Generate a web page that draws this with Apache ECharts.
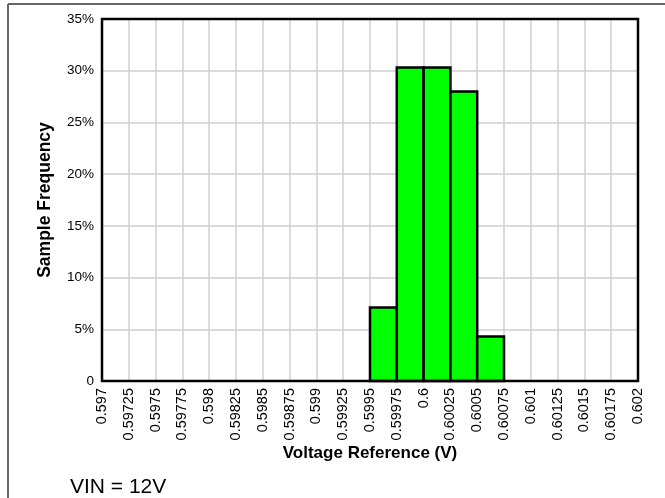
<!DOCTYPE html>
<html>
<head>
<meta charset="utf-8">
<script src="https://cdn.jsdelivr.net/npm/echarts@6/dist/echarts.min.js"></script>
<style>
html,body{margin:0;padding:0;background:#fff;}
#chart{width:665px;height:498px;}
</style>
</head>
<body>
<div id="chart"></div>
<script>
// Histogram bins (volts) and sample frequency (%)
const binLeft  = [0.5995, 0.59975, 0.6, 0.60025, 0.6005];
const binRight = [0.59975, 0.6, 0.60025, 0.6005, 0.60075];
const frequency = [7.1, 30.3, 30.3, 28.0, 4.3];
// Axis tick labels
const xTickLabels = ['0.597','0.59725','0.5975','0.59775','0.598','0.59825','0.5985','0.59875','0.599','0.59925','0.5995','0.59975','0.6','0.60025','0.6005','0.60075','0.601','0.60125','0.6015','0.60175','0.602'];
const yTickLabels = ['0','5%','10%','15%','20%','25%','30%','35%'];
const xTitle = 'Voltage Reference (V)';
const yTitle = 'Sample Frequency';
const note = 'VIN = 12V';

const xMin = parseFloat(xTickLabels[0]);
const xMax = parseFloat(xTickLabels[xTickLabels.length - 1]);
const xStep = parseFloat(xTickLabels[1]) - xMin;

const data = binLeft.map((l, i) => [l, binRight[i], frequency[i]]);

const chart = echarts.init(document.getElementById('chart'), null, {renderer: 'canvas'});
const FONT = '"Liberation Sans", Arial, Helvetica, sans-serif';
chart.setOption({
  animation: false,
  backgroundColor: '#ffffff',
  grid: {left: 102, right: 27, top: 19, bottom: 117, show: true, z: 10, borderColor: '#000', borderWidth: 2.5, backgroundColor: 'transparent'},
  xAxis: {
    type: 'value', min: xMin, max: xMax, interval: xStep,
    name: xTitle, nameLocation: 'middle', nameGap: 64, nameMoveOverlap: false,
    nameTextStyle: {fontFamily: FONT, fontWeight: 'bold', fontSize: 17, color: '#000'},
    axisLine: {show: false}, axisTick: {show: false},
    splitLine: {show: true, lineStyle: {color: '#cfcfcf', width: 1.5}},
    axisLabel: {
      rotate: 90, margin: 7, fontFamily: FONT, fontSize: 14.5, color: '#000',
      formatter: function (v) {
        const idx = Math.round((v - xMin) / xStep);
        return xTickLabels[idx] !== undefined ? xTickLabels[idx] : '';
      }
    }
  },
  yAxis: {
    type: 'value', min: 0, max: 35, interval: 5,
    name: yTitle, nameLocation: 'middle', nameGap: 48, nameRotate: 90,
    nameTextStyle: {fontFamily: FONT, fontWeight: 'bold', fontSize: 17.5, color: '#000'},
    axisLine: {show: false}, axisTick: {show: false},
    splitLine: {show: true, lineStyle: {color: '#cfcfcf', width: 1.5}},
    axisLabel: {
      margin: 8, fontFamily: FONT, fontSize: 13.5, color: '#000',
      formatter: function (v) { return yTickLabels[Math.round(v / 5)]; }
    }
  },
  graphic: [
    {type: 'line', shape: {x1: 8, y1: 4, x2: 665, y2: 4}, style: {stroke: '#666', lineWidth: 2}, z: 100},
    {type: 'line', shape: {x1: 8, y1: 4, x2: 8, y2: 498}, style: {stroke: '#666', lineWidth: 2}, z: 100},
    {type: 'text', left: 70, top: 477, style: {text: note, fontFamily: FONT, fontSize: 21, fill: '#000'}}
  ],
  series: [{
    type: 'custom',
    data: data,
    encode: {x: [0, 1], y: 2},
    renderItem: function (params, api) {
      const p0 = api.coord([api.value(0), api.value(2)]);
      const p1 = api.coord([api.value(1), 0]);
      return {
        type: 'rect',
        shape: {x: p0[0], y: p0[1], width: p1[0] - p0[0], height: p1[1] - p0[1]},
        style: {fill: '#00ff00', stroke: '#000', lineWidth: 2.5}
      };
    },
    z: 3
  }]
});
</script>
</body>
</html>
